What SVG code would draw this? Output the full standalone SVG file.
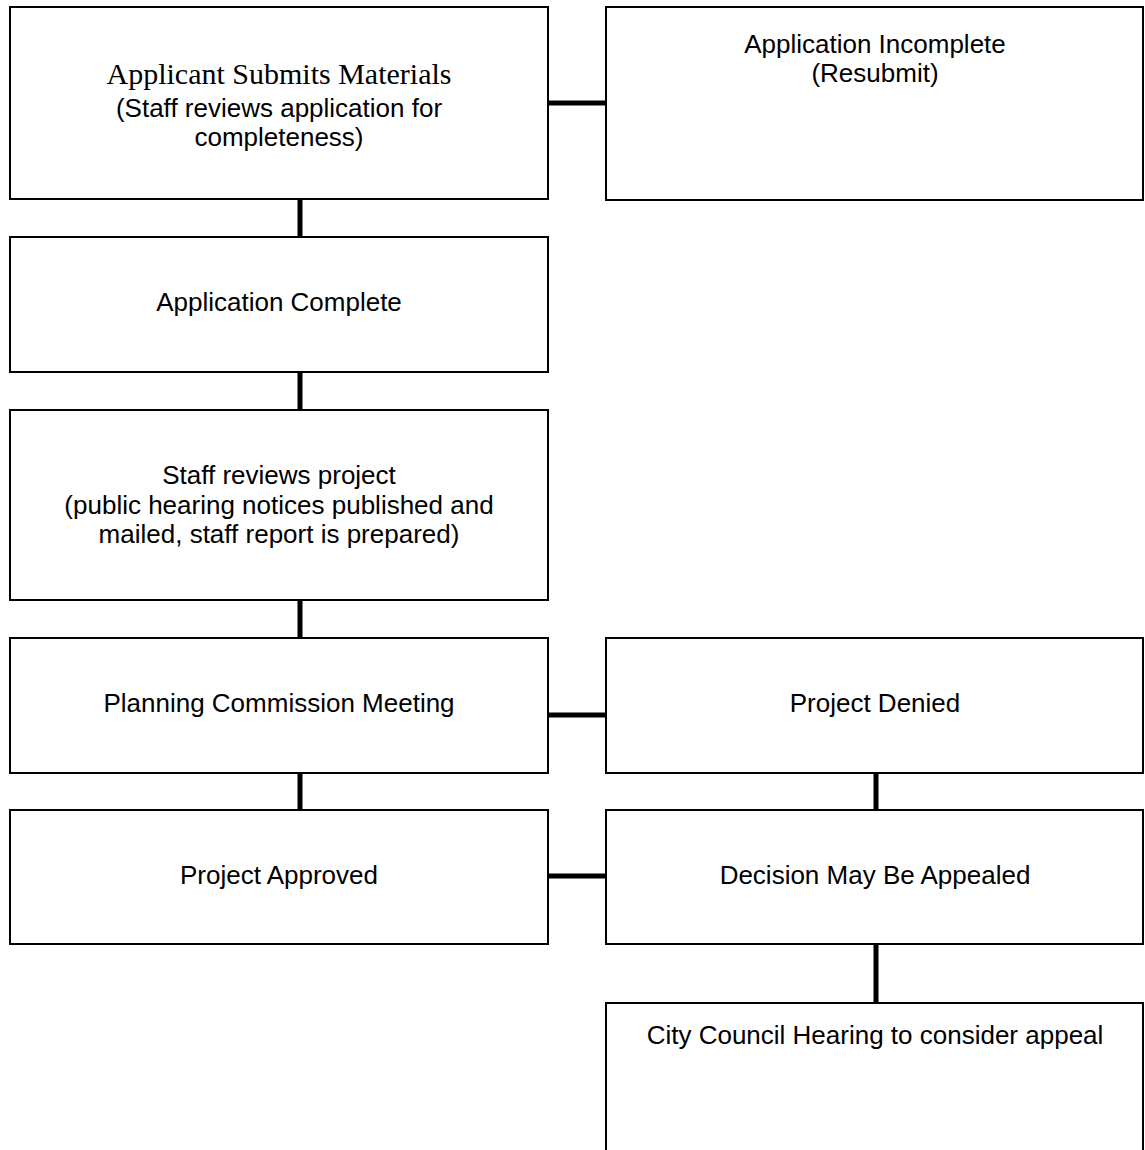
<svg xmlns="http://www.w3.org/2000/svg" width="1145" height="1150" viewBox="0 0 1145 1150">
<style>
.box{fill:#fff;stroke:#000;stroke-width:2}
.t{font-family:"Liberation Sans",Arial,sans-serif;font-size:26px;fill:#000;text-anchor:middle}
.ts{font-family:"Liberation Serif","Times New Roman",serif;font-size:30px;fill:#000;text-anchor:middle}
.c{stroke:#000;stroke-width:5;fill:none}
</style>
<rect width="1145" height="1150" fill="#fff"/>
<g id="connectors">
<line class="c" x1="548" y1="103" x2="606" y2="103"/>
<line class="c" x1="300" y1="199" x2="300" y2="237"/>
<line class="c" x1="300" y1="372" x2="300" y2="410"/>
<line class="c" x1="300" y1="600" x2="300" y2="638"/>
<line class="c" x1="548" y1="715" x2="606" y2="715"/>
<line class="c" x1="300" y1="773" x2="300" y2="810"/>
<line class="c" x1="876" y1="773" x2="876" y2="810"/>
<line class="c" x1="548" y1="876" x2="606" y2="876"/>
<line class="c" x1="876" y1="944" x2="876" y2="1003"/>
</g>
<g id="n1">
<rect class="box" x="10" y="7" width="538" height="192"/>
<text class="ts" x="279" y="84">Applicant Submits Materials</text>
<text class="t" x="279" y="117">(Staff reviews application for</text>
<text class="t" x="279" y="146">completeness)</text>
</g>
<g id="n2">
<rect class="box" x="606" y="7" width="537" height="193"/>
<text class="t" x="875" y="53">Application Incomplete</text>
<text class="t" x="875" y="82">(Resubmit)</text>
</g>
<g id="n3">
<rect class="box" x="10" y="237" width="538" height="135"/>
<text class="t" x="279" y="311">Application Complete</text>
</g>
<g id="n4">
<rect class="box" x="10" y="410" width="538" height="190"/>
<text class="t" x="279" y="484">Staff reviews project</text>
<text class="t" x="279" y="514">(public hearing notices published and</text>
<text class="t" x="279" y="543">mailed, staff report is prepared)</text>
</g>
<g id="n5">
<rect class="box" x="10" y="638" width="538" height="135"/>
<text class="t" x="279" y="712">Planning Commission Meeting</text>
</g>
<g id="n6">
<rect class="box" x="606" y="638" width="537" height="135"/>
<text class="t" x="875" y="712">Project Denied</text>
</g>
<g id="n7">
<rect class="box" x="10" y="810" width="538" height="134"/>
<text class="t" x="279" y="884">Project Approved</text>
</g>
<g id="n8">
<rect class="box" x="606" y="810" width="537" height="134"/>
<text class="t" x="875" y="884">Decision May Be Appealed</text>
</g>
<g id="n9">
<rect class="box" x="606" y="1003" width="537" height="160"/>
<text class="t" x="875" y="1044">City Council Hearing to consider appeal</text>
</g>
</svg>
